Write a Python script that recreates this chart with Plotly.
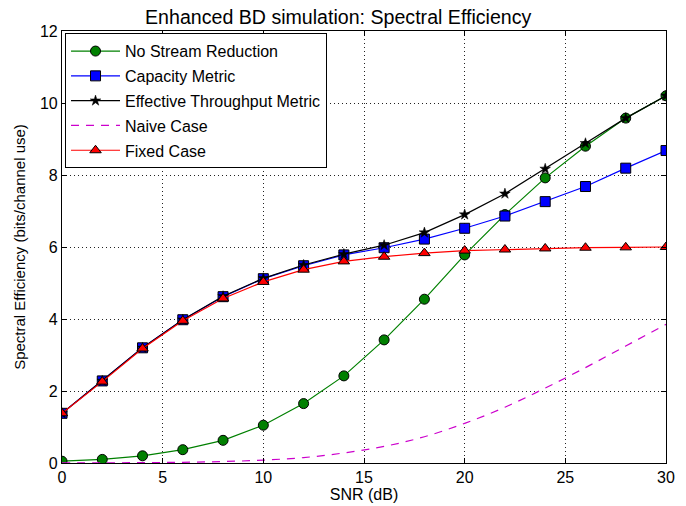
import plotly.graph_objects as go

snr = [0, 2, 4, 6, 8, 10, 12, 14, 16, 18, 20, 22, 24, 26, 28, 30]
no_stream = [0.05, 0.1, 0.2, 0.37, 0.63, 1.05, 1.65, 2.42, 3.42, 4.55, 5.78, 6.9, 7.92, 8.8, 9.58, 10.2]
capacity = [1.38, 2.28, 3.2, 3.98, 4.62, 5.12, 5.48, 5.78, 5.98, 6.22, 6.52, 6.86, 7.26, 7.68, 8.19, 8.68]
eff_tp = [1.38, 2.28, 3.2, 3.98, 4.63, 5.13, 5.5, 5.8, 6.05, 6.4, 6.9, 7.48, 8.17, 8.88, 9.58, 10.2]
naive = [0.003, 0.005, 0.01, 0.02, 0.04, 0.08, 0.15, 0.28, 0.46, 0.73, 1.1, 1.55, 2.08, 2.65, 3.25, 3.85]
fixed = [1.38, 2.26, 3.18, 3.95, 4.57, 5.03, 5.37, 5.6, 5.73, 5.83, 5.9, 5.93, 5.96, 5.98, 5.99, 6.0]

x_ticks = [0, 5, 10, 15, 20, 25, 30]
y_ticks = [0, 2, 4, 6, 8, 10, 12]

FONT = "Liberation Sans, Arial, Helvetica, sans-serif"

fig = go.Figure()
fig.add_trace(go.Scatter(x=snr, y=no_stream, mode="lines+markers", name="No Stream Reduction", legendgroup="a",
                         line=dict(color="#008000", width=1.2),
                         marker=dict(symbol="circle", size=10, color="#008000", line=dict(color="black", width=1))))
fig.add_trace(go.Scatter(x=snr, y=capacity, mode="lines+markers", name="Capacity Metric", legendgroup="b",
                         line=dict(color="#0000ff", width=1.2),
                         marker=dict(symbol="square", size=10, color="#0000ff", line=dict(color="black", width=1))))
fig.add_trace(go.Scatter(x=snr, y=eff_tp, mode="lines+markers", name="Effective Throughput Metric", legendgroup="c",
                         line=dict(color="black", width=1.2),
                         marker=dict(symbol="star", size=8, color="black", line=dict(color="black", width=0.5))))
fig.add_trace(go.Scatter(x=snr, y=naive, mode="lines", name="Naive Case", line_shape="spline", legendgroup="d",
                         line=dict(color="#cc00cc", width=1.2, dash="8px,7px")))
fig.add_trace(go.Scatter(x=snr, y=fixed, mode="lines+markers", name="Fixed Case", legendgroup="e",
                         line=dict(color="#ff0000", width=1.2),
                         marker=dict(symbol="triangle-up", size=10, color="#ff0000", line=dict(color="black", width=1))))

axis_common = dict(showline=True, linecolor="black", linewidth=1.2, mirror="ticks",
                   ticks="inside", ticklen=5, tickcolor="black", automargin=False,
                   showgrid=True, gridcolor="#222222", griddash="1px,3px", gridwidth=1,
                   zeroline=False, tickfont=dict(size=16, color="black", family=FONT))

fig.update_xaxes(range=[0, 30], tickvals=x_ticks, title=dict(text="SNR (dB)", standoff=2,
                 font=dict(size=16, color="black", family=FONT)), **axis_common)
fig.update_yaxes(range=[0, 12], tickvals=y_ticks, title=dict(text="Spectral Efficiency (bits/channel use)", standoff=10,
                 font=dict(size=15, color="black", family=FONT)), **axis_common)

fig.update_layout(
    width=686, height=506,
    margin=dict(l=62, r=20, t=31, b=43, autoexpand=False),
    paper_bgcolor="white", plot_bgcolor="white",
    font=dict(family=FONT, color="black"),
    title=dict(text="Enhanced BD simulation: Spectral Efficiency", x=0.493, xanchor="center",
               yref="container", y=0.9654, yanchor="middle",
               font=dict(size=19.6, color="black", family=FONT), automargin=False),
    showlegend=True,
    legend=dict(x=0.005, y=0.995, xanchor="left", yanchor="top", bgcolor="white",
                bordercolor="black", borderwidth=1, font=dict(size=16, color="black", family=FONT),
                itemwidth=49, traceorder="grouped", tracegroupgap=1),
)

# remove the browser's default 8px body margin so the figure fills the window exactly
fig.write_html("out.html", config={"displayModeBar": False},
               post_script="document.body.style.margin='0px';")
